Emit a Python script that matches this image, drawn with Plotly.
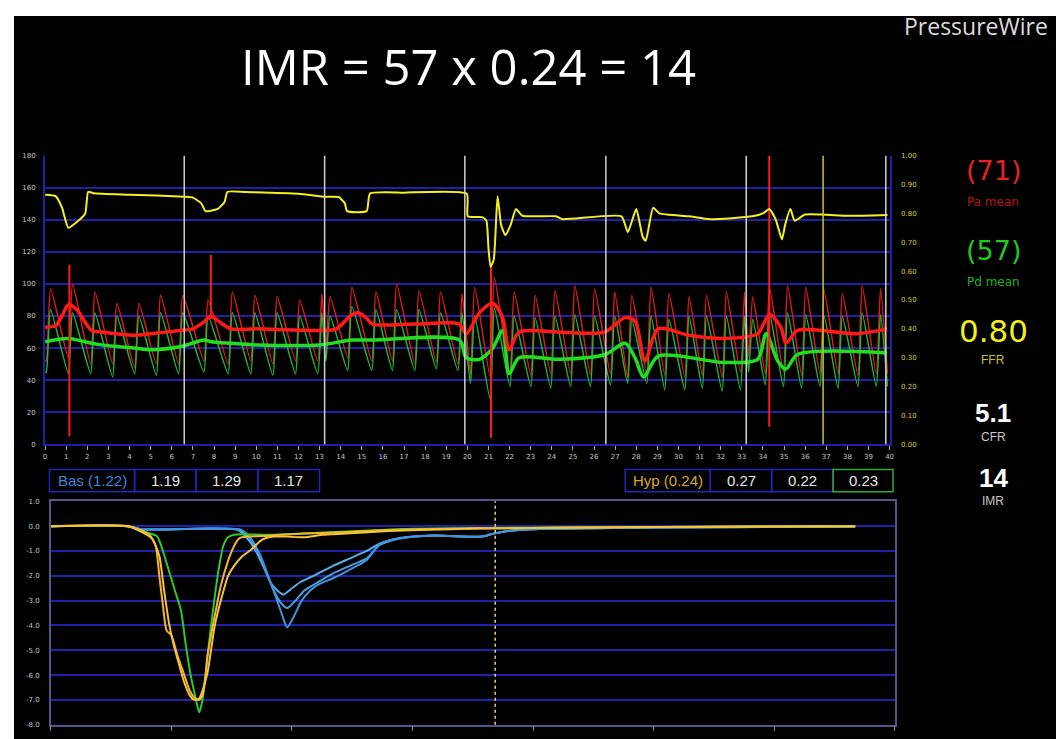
import plotly.graph_objects as go

W, H = 1064, 739
OFF = 8  # page body margin of the html page, compensated in all pixel positions

# ---------------- top chart data (time in s) ----------------
beat_t = [0.26, 1.30, 2.36, 3.40, 4.44, 5.47, 6.52, 7.72, 8.87, 9.94, 10.99, 12.06, 13.11, 13.50,
          14.53, 15.67, 16.65, 17.71, 18.73, 19.75, 20.35, 21.28, 22.22, 23.21, 24.15, 25.09, 26.03,
          26.98, 27.79, 28.70, 29.55, 30.50, 31.33, 32.27, 33.13, 33.52, 34.31, 35.17, 36.03, 36.90,
          37.76, 38.70, 39.57]
pa_peak = [97, 100, 95, 88, 88, 93, 93, 90, 95, 93, 92, 90, 94, 92, 98, 95, 100, 96, 95, 94, 98, 104,
           95, 93, 96, 99, 97, 95, 93, 98, 94, 92, 93, 95, 95, 92, 98, 99, 98, 96, 94, 99, 97]
pa_trough = [52, 54, 50, 50, 48, 50, 50, 52, 50, 52, 50, 52, 52, 60, 54, 52, 52, 50, 51, 50, 44, 42,
             44, 43, 44, 44, 43, 44, 42, 44, 43, 42, 43, 42, 45, 55, 44, 45, 43, 44, 44, 43, 44]
pd_peak = [84, 82, 82, 80, 80, 82, 82, 80, 82, 82, 82, 80, 82, 80, 86, 84, 84, 84, 82, 82, 80, 85,
           80, 79, 80, 81, 80, 80, 78, 80, 78, 80, 80, 80, 80, 78, 82, 82, 81, 80, 80, 82, 81]
pd_trough = [45, 44, 44, 42, 44, 43, 44, 45, 44, 44, 43, 44, 44, 52, 46, 46, 46, 46, 47, 46, 38, 28,
             36, 36, 35, 36, 36, 37, 38, 38, 34, 34, 35, 33, 34, 45, 37, 36, 35, 36, 35, 36, 36]

pa_mean_t = [0, 0.5, 0.8, 1.1, 1.5, 2.2, 2.7, 4.2, 5.0, 6.4, 7.0, 7.5, 7.85, 8.3, 8.8, 10.0, 13.0,
             13.8, 14.45, 14.8, 15.2, 15.5, 17.5, 19.6, 19.95, 20.57, 21.2, 21.67, 21.98, 22.45,
             24.3, 26.5, 27.47, 27.94, 28.41, 29.04, 30.5, 32.2, 33.75, 34.3, 34.85, 35.09, 35.64,
             38.46, 39.87]
pa_mean = [73, 74, 80, 87, 84, 71, 70, 68, 69, 71, 72, 76, 80, 76, 72, 72, 71, 72, 80, 82, 79, 75,
           75, 75, 69, 82, 88, 79, 59, 70, 70, 70, 79, 77, 52, 72, 68, 66, 69, 81, 73, 63, 71, 69, 72]

pd_mean_t = [0, 1.1, 2.2, 2.67, 4.24, 5.03, 6.44, 7.54, 7.85, 8.79, 10.0, 13.03, 14.45, 14.6, 15.5,
             19.63, 19.94, 20.57, 21.2, 21.67, 21.98, 22.45, 24.33, 26.53, 27.47, 27.94, 28.35,
             29.04, 32.18, 33.75, 34.15, 34.7, 35.09, 35.64, 39.87]
pd_mean = [64, 66, 63, 62, 60, 59, 61, 65, 64, 63, 62, 62, 65, 65, 65, 65, 54, 53, 60, 71, 44, 54, 53,
           56, 63, 54, 42, 55, 51, 53, 69, 52, 47, 56, 57]

ffr_t = [0, 0.5, 0.8, 1.1, 1.5, 1.9, 2.04, 2.3, 4.0, 6.6, 7.0, 7.4, 7.6, 8.2, 8.5, 8.64, 9.5, 12.0,
         13.27, 13.9, 14.2, 14.3, 15.23, 15.39, 17.0, 19.97, 20.02, 20.7, 20.9, 21.0, 21.1, 21.25,
         21.43, 21.6, 21.8, 22.05, 22.3, 22.6, 24.2, 24.5, 27.3, 27.6, 28.0, 28.3, 28.45, 28.8,
         29.1, 30.5, 31.5, 33.5, 34.0, 34.3, 34.6, 34.9, 35.05, 35.3, 35.5, 36.0, 38.0, 39.9]
ffr = [0.865, 0.86, 0.82, 0.75, 0.77, 0.80, 0.875, 0.87, 0.865, 0.858, 0.855, 0.835, 0.808, 0.817,
       0.84, 0.875, 0.874, 0.868, 0.858, 0.857, 0.835, 0.808, 0.808, 0.869, 0.872, 0.868, 0.79,
       0.787, 0.775, 0.68, 0.615, 0.64, 0.86, 0.76, 0.725, 0.76, 0.815, 0.792, 0.79, 0.78, 0.79,
       0.735, 0.815, 0.72, 0.705, 0.82, 0.80, 0.79, 0.78, 0.79, 0.80, 0.815, 0.78, 0.71, 0.76,
       0.815, 0.775, 0.796, 0.792, 0.795]

spike_t = [1.15, 1.15, None, 7.85, 7.85, None, 21.12, 21.12, None, 34.30, 34.30]
spike_v = [112, 5, None, 78, 118, None, 112, 4, None, 180, 11]

marker_t = [6.59, 13.24, 19.88, 26.56, 33.21, 39.82]
event_t = [36.85]

y_left_ticks = list(range(0, 181, 20))
x_top_ticks = list(range(0, 41))

# ---------------- bottom chart data (thermodilution curves) ----------------
hyp1_t = [0, 0.64, 0.74, 0.82, 0.87, 0.90, 0.93, 0.96, 1.00, 1.05, 1.10, 1.15, 1.19, 1.23, 1.26,
          1.30, 1.36, 1.41, 1.47, 1.52, 1.56, 1.62, 1.75, 1.90, 2.10, 2.40, 2.80, 3.30, 3.80, 4.50,
          5.50, 6.67]
hyp1_v = [0, 0, -0.15, -0.35, -0.8, -2.0, -3.2, -4.2, -4.4, -5.2, -5.9, -6.6, -6.9, -7.0, -6.8,
          -5.2, -3.6, -2.4, -1.4, -0.8, -0.5, -0.42, -0.4, -0.35, -0.3, -0.25, -0.15, -0.1, -0.08,
          -0.05, -0.02, 0.0]
hyp2_t = [0, 0.64, 0.74, 0.84, 0.90, 0.94, 0.98, 1.02, 1.06, 1.10, 1.15, 1.19, 1.23, 1.26, 1.30,
          1.36, 1.41, 1.47, 1.52, 1.58, 1.66, 1.75, 1.85, 1.95, 2.10, 2.25, 2.45, 2.80, 3.30, 3.80,
          4.50, 5.50, 6.67]
hyp2_v = [0, 0, -0.2, -0.5, -1.2, -2.6, -3.9, -4.8, -5.5, -6.2, -6.8, -7.0, -6.95, -6.6, -5.9,
          -4.0, -3.0, -2.0, -1.6, -1.25, -0.95, -0.55, -0.42, -0.42, -0.45, -0.35, -0.3, -0.2, -0.12,
          -0.08, -0.05, -0.02, 0.0]
hyp3_t = [0, 0.64, 0.76, 0.88, 0.93, 0.98, 1.03, 1.08, 1.12, 1.16, 1.20, 1.23, 1.25, 1.28, 1.31,
          1.35, 1.39, 1.43, 1.47, 1.52, 1.60, 1.80, 2.10, 2.50, 3.00, 3.50, 4.20, 5.00, 6.00, 6.67]
hyp3_v = [0, 0, -0.2, -0.4, -1.0, -1.8, -2.6, -3.4, -4.8, -6.0, -6.9, -7.5, -7.2, -6.2, -4.8, -3.2,
          -1.8, -0.8, -0.45, -0.35, -0.33, -0.35, -0.3, -0.2, -0.1, -0.08, -0.05, -0.03, -0.01, 0]

bas1_t = [0, 0.64, 0.75, 1.55, 1.63, 1.70, 1.77, 1.82, 1.88, 1.93, 2.00, 2.07, 2.20, 2.34, 2.48,
          2.62, 2.73, 2.89, 3.17, 3.58, 3.67, 3.88, 4.50, 5.50, 6.67]
bas1_v = [0, 0, -0.13, -0.15, -0.5, -1.0, -1.7, -2.25, -2.6, -2.75, -2.5, -2.25, -1.95, -1.6, -1.3,
          -1.0, -0.7, -0.48, -0.38, -0.42, -0.3, -0.15, -0.08, -0.04, -0.02]
bas2_t = [0, 0.64, 0.75, 1.57, 1.65, 1.72, 1.79, 1.85, 1.91, 1.96, 2.03, 2.10, 2.20, 2.34, 2.48,
          2.62, 2.73, 2.89, 3.17, 3.58, 3.67, 3.88, 4.50, 5.50, 6.67]
bas2_v = [0, 0, -0.13, -0.15, -0.5, -1.1, -1.9, -2.6, -3.1, -3.3, -3.0, -2.6, -2.3, -1.9, -1.6,
          -1.3, -0.75, -0.5, -0.38, -0.42, -0.3, -0.15, -0.08, -0.04, -0.02]
bas3_t = [0, 0.64, 0.75, 1.58, 1.66, 1.74, 1.81, 1.87, 1.92, 1.96, 2.02, 2.08, 2.15, 2.22, 2.34,
          2.48, 2.62, 2.73, 2.89, 3.17, 3.58, 3.67, 3.88, 4.50, 5.50, 6.67]
bas3_v = [0, 0, -0.13, -0.15, -0.5, -1.2, -2.1, -2.9, -3.6, -4.08, -3.6, -3.0, -2.6, -2.35, -2.1,
          -1.75, -1.36, -0.7, -0.5, -0.38, -0.42, -0.3, -0.15, -0.08, -0.04, -0.02]

dash_t = 3.685
y_bottom_ticks = list(range(-8, 2))

bas_labels = ["Bas (1.22)", "1.19", "1.29", "1.17"]
hyp_labels = ["Hyp (0.24)", "0.27", "0.22", "0.23"]

# ---------------- helpers ----------------
def px_x(p):
    return (p - OFF) / W


def px_y(p):
    return 1 - (p - OFF) / H


def sawtooth(times, peaks, troughs, rise=0.2, t_end=39.9):
    xs, ys = [0.0], [troughs[0]]
    for t, pk, tr in zip(times, peaks, troughs):
        xs += [max(t - rise, 0.01), t]
        ys += [tr, pk]
    xs.append(t_end)
    ys.append(troughs[-1])
    return xs, ys


fig = go.Figure()

pa_x, pa_y = sawtooth(beat_t, pa_peak, pa_trough)
pd_x, pd_y = sawtooth(beat_t, pd_peak, pd_trough)

fig.add_trace(go.Scatter(x=pa_x, y=pa_y, mode="lines",
                         line=dict(color="#dc1a1a", width=1.5, shape="spline", smoothing=0.5),
                         xaxis="x", yaxis="y", hoverinfo="skip"))
fig.add_trace(go.Scatter(x=pd_x, y=pd_y, mode="lines",
                         line=dict(color="#22b432", width=1.5, shape="spline", smoothing=0.5),
                         xaxis="x", yaxis="y", hoverinfo="skip"))
fig.add_trace(go.Scatter(x=pd_mean_t, y=pd_mean, mode="lines",
                         line=dict(color="#22dd22", width=3.5, shape="spline", smoothing=0.8),
                         xaxis="x", yaxis="y", hoverinfo="skip"))
fig.add_trace(go.Scatter(x=pa_mean_t, y=pa_mean, mode="lines",
                         line=dict(color="#ff1a1a", width=3.5, shape="spline", smoothing=0.8),
                         xaxis="x", yaxis="y", hoverinfo="skip"))
fig.add_trace(go.Scatter(x=spike_t, y=spike_v, mode="lines", line=dict(color="#ff1a1a", width=2),
                         xaxis="x", yaxis="y", hoverinfo="skip", connectgaps=False))
fig.add_trace(go.Scatter(x=ffr_t, y=ffr, mode="lines",
                         line=dict(color="#f4f020", width=2, shape="spline", smoothing=0.5),
                         xaxis="x", yaxis="y2", hoverinfo="skip"))

# bottom curves
for tt, vv, col in [(bas1_t, bas1_v, "#5aaee8"), (bas2_t, bas2_v, "#4a9ee0"), (bas3_t, bas3_v, "#3f94dc"),
                    (hyp3_t, hyp3_v, "#2ec82e"), (hyp1_t, hyp1_v, "#f2b62e"), (hyp2_t, hyp2_v, "#f5c23a")]:
    fig.add_trace(go.Scatter(x=tt, y=vv, mode="lines",
                             line=dict(color=col, width=2, shape="spline", smoothing=0.6),
                             xaxis="x2", yaxis="y3", hoverinfo="skip"))

shapes = []
# black screen background
shapes.append(dict(type="rect", xref="paper", yref="paper", x0=px_x(12), x1=1.0, y0=0, y1=px_y(12),
                   fillcolor="black", line=dict(width=0), layer="below"))
for mt in marker_t:
    shapes.append(dict(type="line", xref="x", yref="y domain", x0=mt, x1=mt, y0=0, y1=1,
                       line=dict(color="#d0d0d0", width=1.5)))
for et in event_t:
    shapes.append(dict(type="line", xref="x", yref="y domain", x0=et, x1=et, y0=0, y1=1,
                       line=dict(color="#c8c828", width=1.5)))
shapes.append(dict(type="line", xref="x2", yref="y3 domain", x0=dash_t, x1=dash_t, y0=0, y1=1,
                   line=dict(color="#e8d860", width=1.5, dash="dot")))

# value boxes
box_blue = "#2222b8"
bas_edges = [47.7, 133.3, 195, 257.3, 319.3]
hyp_edges = [626.7, 712.3, 774, 835.7, 896]
annotations = []
for edges, labels, first_col in [(bas_edges, bas_labels, "#3f86dc"), (hyp_edges, hyp_labels, "#d9a52a")]:
    for i, lab in enumerate(labels):
        border = "#2fa83a" if (labels is hyp_labels and i == 3) else box_blue
        shapes.append(dict(type="rect", xref="paper", yref="paper",
                           x0=px_x(edges[i]), x1=px_x(edges[i + 1]), y0=px_y(493), y1=px_y(470.5),
                           line=dict(color=border, width=1.5), fillcolor="rgba(0,0,0,0)"))
        annotations.append(dict(text=lab, xref="paper", yref="paper",
                                x=px_x((edges[i] + edges[i + 1]) / 2), y=px_y(482),
                                xanchor="center", yanchor="middle", showarrow=False,
                                font=dict(family="Liberation Sans, Arial", size=15,
                                          color=first_col if i == 0 else "#e6e6e6")))

# title and brand
annotations.append(dict(text="IMR = 57 x 0.24 = 14", xref="paper", yref="paper", x=px_x(469), y=px_y(63),
                        xanchor="center", yanchor="middle", showarrow=False,
                        font=dict(family="Open Sans", size=49, color="white")))
annotations.append(dict(text="PressureWire", xref="paper", yref="paper", x=px_x(905), y=px_y(22),
                        xanchor="left", yanchor="middle", showarrow=False,
                        font=dict(family="Open Sans", size=23, color="#dcdcdc")))

# right panel readouts
panel = [
    ("(71)", 168, 27, "#e82222", "DejaVu Sans"),
    ("Pa mean", 200, 12, "#b81414", "DejaVu Sans"),
    ("(57)", 249, 27, "#22c822", "DejaVu Sans"),
    ("Pd mean", 281, 12, "#22b022", "DejaVu Sans"),
    ("0.80", 330, 31, "#f2f018", "DejaVu Sans"),
    ("FFR", 360, 12, "#c8c026", "Liberation Sans"),
    ("<b>5.1</b>", 413, 26, "#ffffff", "Liberation Sans"),
    ("CFR", 438, 12, "#c8c8c8", "Liberation Sans"),
    ("<b>14</b>", 479, 26, "#ffffff", "Liberation Sans"),
    ("IMR", 502, 12, "#c8c8c8", "Liberation Sans"),
]
for txt, yy, sz, col, fam in panel:
    annotations.append(dict(text=txt, xref="paper", yref="paper", x=px_x(997), y=px_y(yy),
                            xanchor="center", yanchor="middle", showarrow=False,
                            font=dict(family=fam, size=sz, color=col)))

grid_blue = "#2020a8"
tick_font = dict(family="DejaVu Sans", size=7, color="#c4c4c4")

fig.update_layout(
    width=W, height=H,
    margin=dict(l=0, r=0, t=0, b=0, pad=0),
    paper_bgcolor="white", plot_bgcolor="black",
    showlegend=False,
    shapes=shapes, annotations=annotations,
    xaxis=dict(domain=[px_x(43.3), px_x(892.6)], range=[0, 40], anchor="y",
               tickmode="array", tickvals=x_top_ticks, ticktext=[str(v) for v in x_top_ticks],
               showgrid=False, zeroline=False, showline=True, linecolor=grid_blue, linewidth=2,
               ticks="outside", ticklen=4, tickcolor="#a8a8a8", tickfont=tick_font),
    yaxis=dict(domain=[px_y(445), px_y(153.3)], range=[0, 180], anchor="x",
               tickmode="array", tickvals=y_left_ticks,
               showgrid=True, gridcolor=grid_blue, gridwidth=1.5, zeroline=False,
               showline=True, linecolor=grid_blue, linewidth=2, ticks="", ticklabelstandoff=6,
               tickfont=tick_font),
    yaxis2=dict(overlaying="y", side="right", anchor="x", range=[0, 1], dtick=0.1, tick0=0,
                tickformat=".2f", showgrid=False, zeroline=False, showline=True,
                linecolor=grid_blue, linewidth=2, ticks="", ticklabelstandoff=8,
                tickfont=dict(family="DejaVu Sans", size=7, color="#d6d228")),
    xaxis2=dict(domain=[px_x(49), px_x(898)], range=[0, 7], anchor="y3", dtick=1, tick0=0,
                showticklabels=False, showgrid=False, zeroline=False, showline=True, mirror=True,
                linecolor="#55558e", linewidth=1.5, ticks="outside", ticklen=5, tickcolor="#8a8a8a"),
    yaxis3=dict(domain=[px_y(728.5), px_y(502.7)], range=[-8, 1], anchor="x2",
                tickmode="array", tickvals=y_bottom_ticks, ticktext=[f"{v:.1f}" for v in y_bottom_ticks],
                showgrid=True, gridcolor=grid_blue, gridwidth=1.5, zeroline=False, showline=True,
                mirror=True, linecolor="#55558e", linewidth=1.5, ticks="", ticklabelstandoff=8,
                tickfont=tick_font),
)

fig.write_html("out.html")
